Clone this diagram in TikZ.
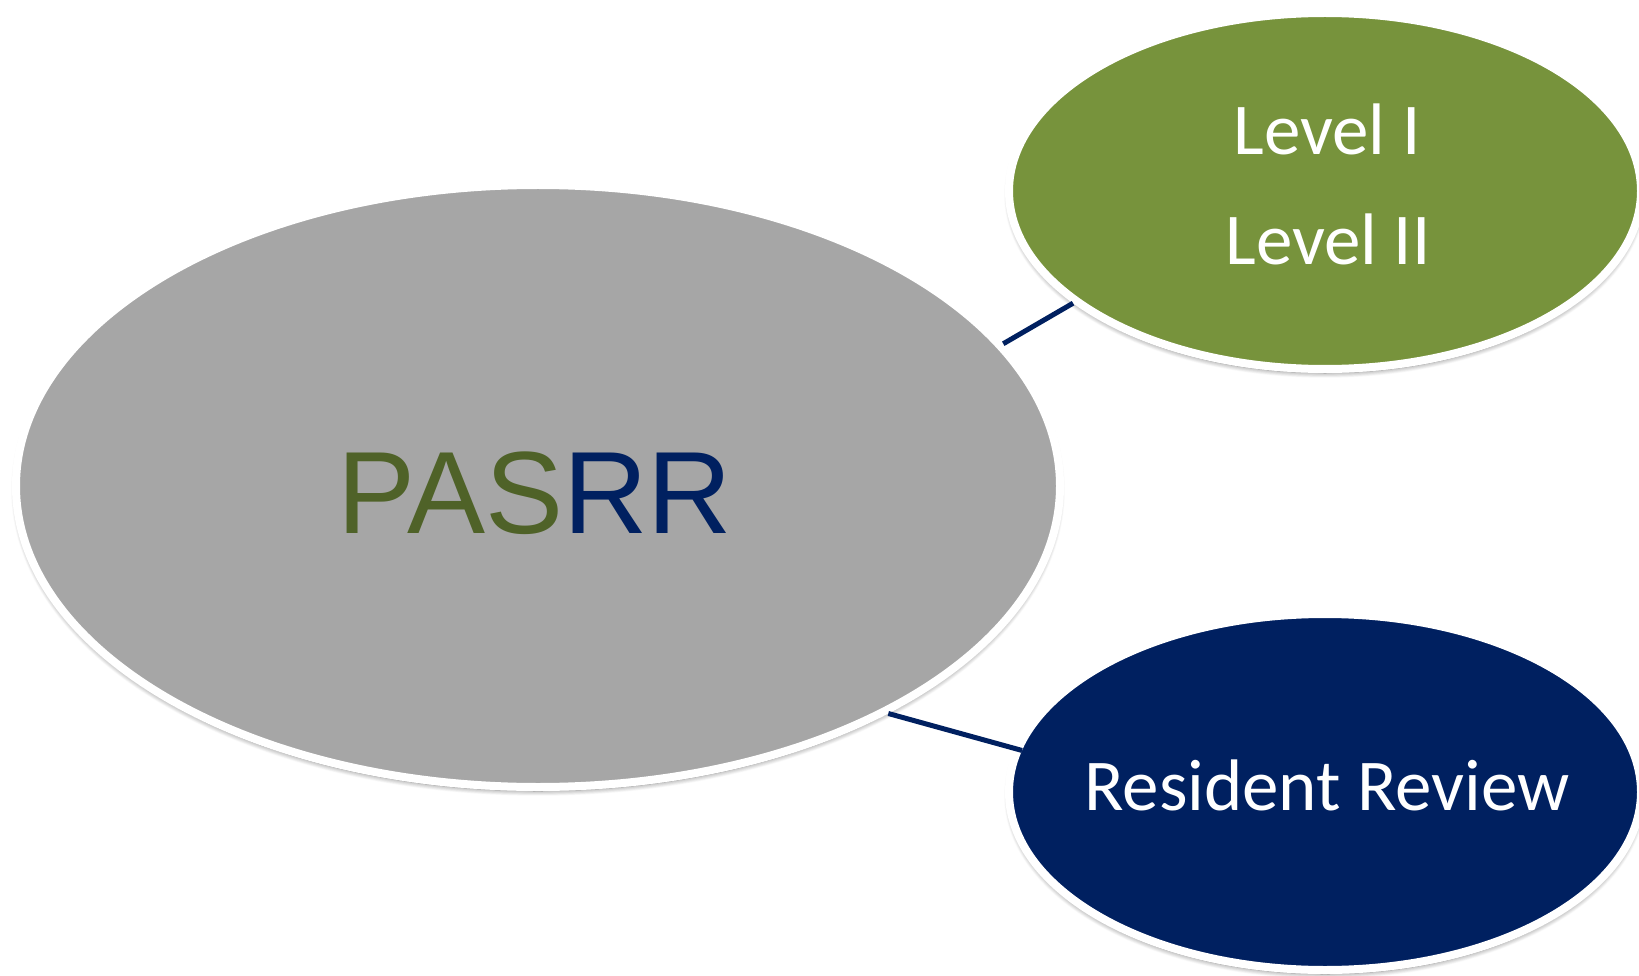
\documentclass[tikz,border=0pt]{standalone}
\usepackage{fontspec}
\setmainfont{Carlito}
\newfontfamily\arialfont{Liberation Sans}
\usetikzlibrary{shapes.geometric,shadows.blur}
\definecolor{grayfill}{HTML}{A6A6A6}
\definecolor{greenfill}{HTML}{77933C}
\definecolor{navy}{HTML}{002060}
\definecolor{darkgreen}{HTML}{4F6228}
\tikzset{
  bubble/.style={ellipse, draw=white, line width=8pt, inner sep=0pt,
    blur shadow={shadow xshift=0pt, shadow yshift=-4pt, shadow blur radius=5pt,
      shadow blur steps=10, shadow opacity=50}},
  link/.style={draw=navy, line width=5pt},
  lbl/.style={anchor=base, text=white, font=\fontsize{73}{80}\selectfont, inner sep=0pt}
}
\begin{document}
\begin{tikzpicture}[x=1pt,y=-1pt]
\useasboundingbox (0,0) rectangle (1639,976);
\clip (0,0) rectangle (1639,976);
\node[bubble, fill=grayfill, minimum width=1044pt, minimum height=602pt] (pasrr) at (538,486) {};
\node[bubble, fill=greenfill, minimum width=632pt, minimum height=356pt] (levels) at (1325,191) {};
\node[bubble, fill=navy, minimum width=632pt, minimum height=356pt] (review) at (1325,792) {};
\draw[link] (pasrr.17.5) -- (levels.204);
\draw[link, shorten >=-8pt] (pasrr.-33) -- (review.172);
\node[anchor=base, inner sep=0pt, font=\arialfont\fontsize{117}{120}\selectfont] (title) at (535,533) {\textcolor{darkgreen}{PAS}\textcolor{navy}{RR}};
\node[lbl] (l1) at (1327,155) {Level I};
\node[lbl] (l2) at (1328,265) {Level II};
\node[lbl] (rr) at (1327,810) {Resident Review};
\end{tikzpicture}
\end{document}
